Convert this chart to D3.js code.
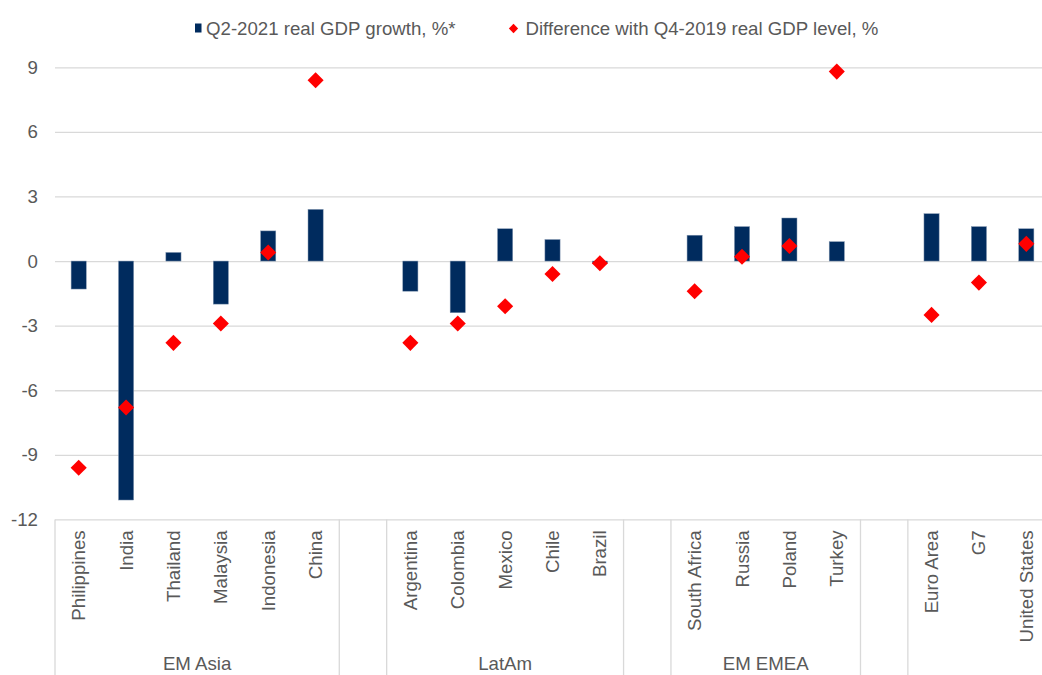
<!DOCTYPE html>
<html>
<head>
<meta charset="utf-8">
<script src="https://cdn.jsdelivr.net/npm/d3@7"></script>
<style>
  html, body { margin: 0; padding: 0; background: #ffffff; }
  svg { display: block; font-family: "Liberation Sans", Arial, sans-serif; }
</style>
</head>
<body>
<svg id="chart" width="1042" height="675"></svg>
<script>
// Category slots (empty strings are spacer slots between regional groups)
const categories = [
  "Philippines", "India", "Thailand", "Malaysia", "Indonesia", "China", "",
  "Argentina", "Colombia", "Mexico", "Chile", "Brazil", "",
  "South Africa", "Russia", "Poland", "Turkey", "",
  "Euro Area", "G7", "United States"
];

// Regional groups: name and how many slots each spans
const groupNames = ["EM Asia", "", "LatAm", "", "EM EMEA", "", ""];
const groupSizes = [6, 1, 5, 1, 4, 1, 3];

// Q2-2021 real GDP growth, % (q/q)
const growth = [
  -1.3, -11.1, 0.4, -2.0, 1.4, 2.4, null,
  -1.4, -2.4, 1.5, 1.0, -0.1, null,
  1.2, 1.6, 2.0, 0.9, null,
  2.2, 1.6, 1.5
];

// Difference with Q4-2019 real GDP level, %
const gap = [
  -9.6, -6.8, -3.8, -2.9, 0.4, 8.4, null,
  -3.8, -2.9, -2.1, -0.6, -0.1, null,
  -1.4, 0.2, 0.7, 8.8, null,
  -2.5, -1.0, 0.8
];

const yTicks = [-12, -9, -6, -3, 0, 3, 6, 9];

const seriesNames = ["Q2-2021 real GDP growth, %*", "Difference with Q4-2019 real GDP level, %"];

const navy = "#002b5e";
const red = "#ff0000";
const textColor = "#595959";
const gridColor = "#d9d9d9";
const fontSize = 18.67;

const svg = d3.select("#chart");

const plotLeft = 55, plotRight = 1050;
const x = d3.scaleBand()
  .domain(d3.range(categories.length))
  .range([plotLeft, plotRight])
  .paddingInner(0).paddingOuter(0);

const y = d3.scaleLinear().domain([-12, 9]).range([519.4, 67.3]);

// Horizontal gridlines and value labels (plain hyphen for negatives)
const yAxis = d3.axisLeft(y)
  .tickValues(yTicks)
  .tickSize(-(plotRight - plotLeft))
  .tickPadding(17)
  .tickFormat(d => String(d));

const gy = svg.append("g")
  .attr("transform", `translate(${plotLeft},0)`)
  .call(yAxis);
gy.select(".domain").remove();
gy.selectAll(".tick line").attr("stroke", gridColor).attr("stroke-width", 1.3);
gy.selectAll(".tick text")
  .attr("fill", textColor)
  .style("font-size", fontSize + "px")
  .style("font-family", "'Liberation Sans', Arial, sans-serif");

// Bars
const barW = x.bandwidth() * 0.32;
svg.append("g").selectAll("rect")
  .data(growth.map((v, i) => ({ v, i })).filter(d => d.v !== null))
  .join("rect")
  .attr("x", d => x(d.i) + (x.bandwidth() - barW) / 2)
  .attr("width", barW)
  .attr("y", d => y(Math.max(0, d.v)))
  .attr("height", d => Math.abs(y(d.v) - y(0)))
  .attr("fill", navy)
  .attr("stroke", "#8196b0")
  .attr("stroke-width", 0.5);

// Diamonds
const diamond = d3.symbol().type(d3.symbolDiamond2).size(165);
svg.append("g").selectAll("path")
  .data(gap.map((v, i) => ({ v, i })).filter(d => d.v !== null))
  .join("path")
  .attr("d", diamond)
  .attr("transform", d => `translate(${x(d.i) + x.bandwidth() / 2},${y(d.v)})`)
  .attr("fill", red);

// Category axis: country labels, rotated
const xAxis = d3.axisBottom(x)
  .tickSize(0)
  .tickFormat(i => categories[i]);
const gx = svg.append("g")
  .attr("transform", `translate(0,${y(-12)})`)
  .call(xAxis);
gx.select(".domain").remove();
gx.selectAll(".tick text")
  .attr("fill", textColor)
  .style("font-size", fontSize + "px")
  .style("font-family", "'Liberation Sans', Arial, sans-serif")
  .attr("text-anchor", "end")
  .attr("transform", "translate(0,11) rotate(-90)")
  .attr("x", 0)
  .attr("y", 0)
  .attr("dy", "0.35em");

// Group separators and group labels
const axisTop = y(-12);
let start = 0;
const bounds = [0];
groupSizes.forEach(n => { start += n; bounds.push(start); });
const edge = i => (i < categories.length ? x(i) : plotRight);

svg.append("g").selectAll("line")
  .data(bounds)
  .join("line")
  .attr("x1", b => edge(b)).attr("x2", b => edge(b))
  .attr("y1", axisTop).attr("y2", 675)
  .attr("stroke", gridColor).attr("stroke-width", 1.3);

svg.append("g").selectAll("text")
  .data(groupNames.map((name, k) => ({ name, a: bounds[k], b: bounds[k + 1] })))
  .join("text")
  .attr("x", d => (edge(d.a) + edge(d.b)) / 2)
  .attr("y", 669.5)
  .attr("text-anchor", "middle")
  .attr("fill", textColor)
  .style("font-size", fontSize + "px")
  .text(d => d.name);

// Legend
const legend = svg.append("g");
legend.append("rect")
  .attr("x", 195).attr("y", 23.5).attr("width", 6.5).attr("height", 9)
  .attr("fill", navy);
legend.append("text")
  .attr("x", 206).attr("y", 35)
  .attr("fill", textColor)
  .style("font-size", fontSize + "px")
  .text(seriesNames[0]);
legend.append("path")
  .attr("d", d3.symbol().type(d3.symbolDiamond2).size(55))
  .attr("transform", "translate(513.5,28.5)")
  .attr("fill", red);
legend.append("text")
  .attr("x", 525.5).attr("y", 35)
  .attr("fill", textColor)
  .style("font-size", fontSize + "px")
  .text(seriesNames[1]);
</script>
</body>
</html>
